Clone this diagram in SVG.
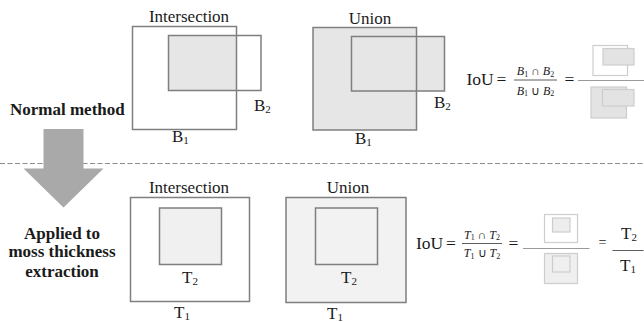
<svg xmlns="http://www.w3.org/2000/svg" width="644" height="322" viewBox="0 0 644 322">
<style>
text{font-family:"Liberation Serif","Times New Roman",serif;fill:#1a1a1a}
.lbl{font-size:17px}
.bold{font-size:17px;font-weight:bold}
.sub{font-size:11px}
.box{stroke:#7f7f7f;stroke-width:1.5}
.ic{stroke:#cdcdcd;stroke-width:1.2}
.math{font-size:12px}
.it{font-style:italic}
</style>
<rect width="644" height="322" fill="#ffffff"/>
<g id="connectors">
<line x1="0" y1="163.5" x2="644" y2="163.5" stroke="#8c8c8c" stroke-width="1.2" stroke-dasharray="5,2.5"/>
<path d="M43.5 129 H83.5 V168.5 H103.5 L63.5 207.5 L23.5 168.5 H43.5 Z" fill="#a9a9a9"/>
</g>
<g id="normal-method"><text class="bold" x="10" y="115">Normal method</text></g>
<g id="applied">
<text class="bold" x="62" y="238.5" text-anchor="middle">Applied to</text>
<text class="bold" x="62" y="257" text-anchor="middle">moss thickness</text>
<text class="bold" x="62" y="276.5" text-anchor="middle">extraction</text>
</g>
<g id="intersection-top">
<text class="lbl" x="189" y="22" text-anchor="middle">Intersection</text>
<rect x="168.5" y="35.5" width="68" height="55" fill="#e6e6e6"/>
<rect class="box" x="132.5" y="26.5" width="104" height="103" fill="none"/>
<rect class="box" x="168.5" y="35.5" width="92.5" height="55" fill="none"/>
<text class="lbl" x="254" y="111">B<tspan class="sub" dy="2">2</tspan></text>
<text class="lbl" x="172" y="142">B<tspan class="sub" dy="2">1</tspan></text>
</g>
<g id="union-top">
<text class="lbl" x="370" y="24" text-anchor="middle">Union</text>
<rect x="313" y="27.5" width="103.5" height="102.5" fill="#e6e6e6"/>
<rect x="351.5" y="36.5" width="93" height="54.5" fill="#e6e6e6"/>
<rect class="box" x="313" y="27.5" width="103.5" height="102.5" fill="none"/>
<rect class="box" x="351.5" y="36.5" width="93" height="54.5" fill="none"/>
<text class="lbl" x="434" y="108">B<tspan class="sub" dy="2">2</tspan></text>
<text class="lbl" x="355" y="144">B<tspan class="sub" dy="2">1</tspan></text>
</g>
<g id="iou-top">
<text x="466.5" y="85" font-size="17.5">IoU</text>
<text x="496.5" y="85" font-size="17.5">=</text>
<text class="math" x="535.5" y="75" text-anchor="middle"><tspan class="it">B</tspan><tspan font-size="8" dy="1.5">1</tspan><tspan dy="-1.5"> ∩ </tspan><tspan class="it">B</tspan><tspan font-size="8" dy="1.5">2</tspan></text>
<line x1="514" y1="80" x2="557" y2="80" stroke="#333" stroke-width="0.8"/>
<text class="math" x="535.5" y="94.5" text-anchor="middle"><tspan class="it">B</tspan><tspan font-size="8" dy="1.5">1</tspan><tspan dy="-1.5"> ∪ </tspan><tspan class="it">B</tspan><tspan font-size="8" dy="1.5">2</tspan></text>
<text x="564.5" y="85" font-size="17.5">=</text>
<line x1="578" y1="80.5" x2="644" y2="80.5" stroke="#9a9a9a" stroke-width="1.2"/>
<rect class="ic" x="593" y="45.5" width="34.5" height="30" fill="#ffffff"/>
<rect class="ic" x="603" y="48.5" width="31" height="16.5" fill="#e3e3e3"/>
<rect class="ic" x="591" y="87" width="35.5" height="31" fill="#e3e3e3"/>
<rect class="ic" x="602.5" y="89.5" width="31.5" height="16.5" fill="#e3e3e3"/>
</g>
<g id="intersection-bottom">
<text class="lbl" x="189" y="193" text-anchor="middle">Intersection</text>
<rect class="box" x="130.5" y="197.5" width="119" height="104" fill="#ffffff"/>
<rect class="box" x="159.5" y="208" width="62" height="56.5" fill="#f0f0f0"/>
<text class="lbl" x="190" y="283" text-anchor="middle">T<tspan class="sub" dy="2">2</tspan></text>
<text class="lbl" x="182" y="318" text-anchor="middle">T<tspan class="sub" dy="2">1</tspan></text>
</g>
<g id="union-bottom">
<text class="lbl" x="348" y="193" text-anchor="middle">Union</text>
<rect class="box" x="286" y="197.5" width="120" height="105" fill="#f2f2f2"/>
<rect class="box" x="315.5" y="208" width="62" height="56.5" fill="#f2f2f2"/>
<text class="lbl" x="349" y="283" text-anchor="middle">T<tspan class="sub" dy="2">2</tspan></text>
<text class="lbl" x="335" y="319" text-anchor="middle">T<tspan class="sub" dy="2">1</tspan></text>
</g>
<g id="iou-bottom">
<text x="416" y="248.5" font-size="17.5">IoU</text>
<text x="446" y="248.5" font-size="17.5">=</text>
<text class="math" x="482" y="238.5" text-anchor="middle"><tspan class="it">T</tspan><tspan font-size="8" dy="1.5">1</tspan><tspan dy="-1.5"> ∩ </tspan><tspan class="it">T</tspan><tspan font-size="8" dy="1.5">2</tspan></text>
<line x1="462" y1="243.5" x2="502" y2="243.5" stroke="#333" stroke-width="0.8"/>
<text class="math" x="482" y="257" text-anchor="middle"><tspan class="it">T</tspan><tspan font-size="8" dy="1.5">1</tspan><tspan dy="-1.5"> ∪ </tspan><tspan class="it">T</tspan><tspan font-size="8" dy="1.5">2</tspan></text>
<text x="508.5" y="248.5" font-size="17.5">=</text>
<line x1="523" y1="248.5" x2="589.5" y2="248.5" stroke="#9a9a9a" stroke-width="1.2"/>
<rect class="ic" x="544.5" y="214.5" width="33" height="28" fill="#ffffff"/>
<rect class="ic" x="552.5" y="218" width="17.5" height="14" fill="#ededed"/>
<rect class="ic" x="544.5" y="253.5" width="33" height="30" fill="#efefef"/>
<rect class="ic" x="552.5" y="256" width="17.5" height="16" fill="#efefef"/>
<text x="598.5" y="247" font-size="14">=</text>
<text class="lbl" x="629" y="238.5" text-anchor="middle">T<tspan class="sub" dy="2">2</tspan></text>
<line x1="612.5" y1="250.5" x2="643.5" y2="250.5" stroke="#333" stroke-width="0.8"/>
<text class="lbl" x="628" y="271" text-anchor="middle">T<tspan class="sub" dy="2">1</tspan></text>
</g>
</svg>
